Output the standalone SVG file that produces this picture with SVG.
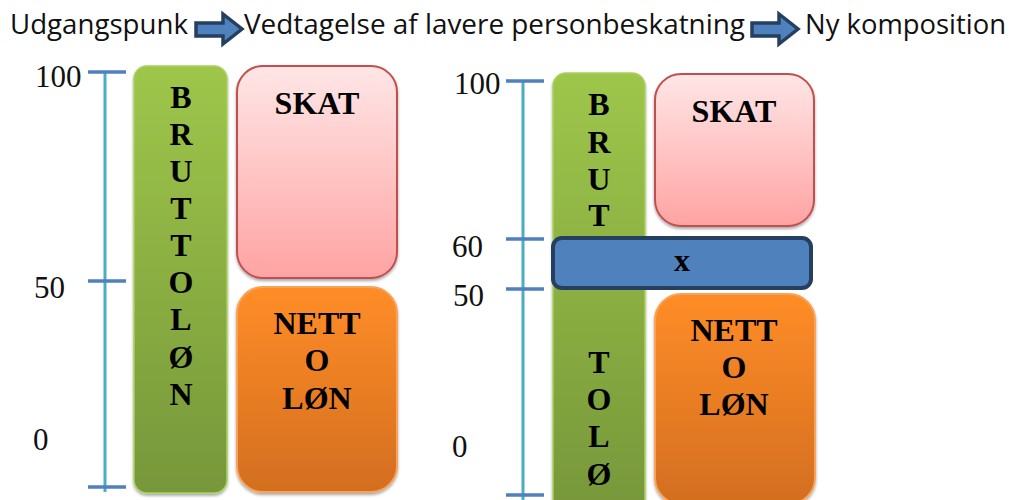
<svg xmlns="http://www.w3.org/2000/svg" width="1014" height="500" viewBox="0 0 1014 500">
  <style>
    .hdr { font-family: "Open Sans", "Noto Sans", sans-serif; font-size: 28px; fill: #111; }
    .num { font-family: "Liberation Serif", serif; font-size: 31px; fill: #111; }
    .lbl { font-family: "Liberation Serif", serif; font-size: 32px; font-weight: bold; fill: #000; text-anchor: middle; }
    .axis { stroke: #4bacc6; stroke-width: 3; fill: none; }
    .tick { stroke: #4f81bd; stroke-width: 3.5; fill: none; }
    .green { fill: url(#gGreen); stroke: #a9d15d; stroke-width: 1.5; filter: url(#shadow); }
    .pink { fill: url(#gPink); stroke: #c0504d; stroke-width: 2; filter: url(#shadow); }
    .orange { fill: url(#gOrange); stroke: #f9a35a; stroke-width: 2; filter: url(#shadow); }
    .xbar { fill: #4f81bd; stroke: #243f60; stroke-width: 4; }
    .arrow { fill: #4f81bd; stroke: #243f60; stroke-width: 3.5; stroke-linejoin: miter; }
  </style>
  <defs>
    <linearGradient id="gGreen" x1="0" y1="0" x2="0" y2="1">
      <stop offset="0" stop-color="#9ec64a"/>
      <stop offset="1" stop-color="#77973a"/>
    </linearGradient>
    <linearGradient id="gPink" x1="0" y1="0" x2="0" y2="1">
      <stop offset="0" stop-color="#ffe6e6"/>
      <stop offset="1" stop-color="#ffa3a3"/>
    </linearGradient>
    <linearGradient id="gOrange" x1="0" y1="0" x2="0" y2="1">
      <stop offset="0" stop-color="#ff8d28"/>
      <stop offset="1" stop-color="#d36e1f"/>
    </linearGradient>
    <filter id="shadow" x="-10%" y="-10%" width="120%" height="120%">
      <feGaussianBlur in="SourceAlpha" stdDeviation="1.5"/>
      <feOffset dx="0" dy="2" result="b"/>
      <feComponentTransfer><feFuncA type="linear" slope="0.35"/></feComponentTransfer>
      <feMerge><feMergeNode/><feMergeNode in="SourceGraphic"/></feMerge>
    </filter>
  </defs>

  <!-- header -->
  <g id="header">
    <text class="hdr" x="10" y="34" textLength="178" lengthAdjust="spacingAndGlyphs">Udgangspunk</text>
    <text class="hdr" x="244" y="34" textLength="501" lengthAdjust="spacingAndGlyphs">Vedtagelse af lavere personbeskatning</text>
    <text class="hdr" x="805" y="34" textLength="201" lengthAdjust="spacingAndGlyphs">Ny komposition</text>
  </g>
  <g id="connectors">
    <path class="arrow" d="M196,23 H223 V14 L242,29 L223,44 V36 H196 Z"/>
    <path class="arrow" d="M752,23 H779 V14 L798,29 L779,44 V36 H752 Z"/>
  </g>

  <!-- left panel: starting point -->
  <g id="axisLeft">
    <line class="axis" x1="105" y1="72" x2="105" y2="492"/>
    <line class="tick" x1="88" y1="72" x2="126" y2="72"/>
    <line class="tick" x1="88" y1="281" x2="126" y2="281"/>
    <line class="tick" x1="88" y1="487" x2="126" y2="487"/>
    <text class="num" x="35" y="87">100</text>
    <text class="num" x="34" y="298">50</text>
    <text class="num" x="33" y="450">0</text>
  </g>
  <g id="bruttoLeft">
    <rect class="green" x="134" y="66" width="93" height="427" rx="13"/>
    <text class="lbl" x="181" y="108">B</text>
    <text class="lbl" x="181" y="145">R</text>
    <text class="lbl" x="181" y="182">U</text>
    <text class="lbl" x="181" y="219">T</text>
    <text class="lbl" x="181" y="256">T</text>
    <text class="lbl" x="181" y="293">O</text>
    <text class="lbl" x="181" y="330">L</text>
    <text class="lbl" x="181" y="368">Ø</text>
    <text class="lbl" x="181" y="405">N</text>
  </g>
  <g id="skatLeft">
    <rect class="pink" x="237" y="66" width="160" height="212" rx="26"/>
    <text class="lbl" x="317" y="114">SKAT</text>
  </g>
  <g id="nettoLeft">
    <rect class="orange" x="237" y="287" width="160" height="205" rx="26"/>
    <text class="lbl" x="317" y="334">NETT</text>
    <text class="lbl" x="317" y="371">O</text>
    <text class="lbl" x="317" y="409">LØN</text>
  </g>

  <!-- right panel: new composition -->
  <g id="axisRight">
    <line class="axis" x1="523" y1="81" x2="523" y2="500"/>
    <line class="tick" x1="506" y1="81" x2="544" y2="81"/>
    <line class="tick" x1="506" y1="239" x2="544" y2="239"/>
    <line class="tick" x1="506" y1="289" x2="544" y2="289"/>
    <line class="tick" x1="506" y1="495" x2="544" y2="495"/>
    <text class="num" x="454" y="94">100</text>
    <text class="num" x="452" y="257">60</text>
    <text class="num" x="453" y="306">50</text>
    <text class="num" x="452" y="457">0</text>
  </g>
  <g id="bruttoRight">
    <rect class="green" x="553" y="73" width="92" height="440" rx="13"/>
    <text class="lbl" x="599" y="115">B</text>
    <text class="lbl" x="599" y="153">R</text>
    <text class="lbl" x="599" y="190">U</text>
    <text class="lbl" x="599" y="226">T</text>
    <text class="lbl" x="599" y="373">T</text>
    <text class="lbl" x="599" y="410">O</text>
    <text class="lbl" x="599" y="447">L</text>
    <text class="lbl" x="599" y="485">Ø</text>
  </g>
  <g id="skatRight">
    <rect class="pink" x="655" y="74" width="159" height="152" rx="26"/>
    <text class="lbl" x="734" y="122">SKAT</text>
  </g>
  <g id="nettoRight">
    <rect class="orange" x="655" y="294" width="160" height="210" rx="26"/>
    <text class="lbl" x="734" y="341">NETT</text>
    <text class="lbl" x="734" y="378">O</text>
    <text class="lbl" x="734" y="415">LØN</text>
  </g>
  <g id="xBar">
    <rect class="xbar" x="553" y="238" width="258" height="50" rx="9"/>
    <text class="lbl" x="682" y="271">x</text>
  </g>
</svg>
